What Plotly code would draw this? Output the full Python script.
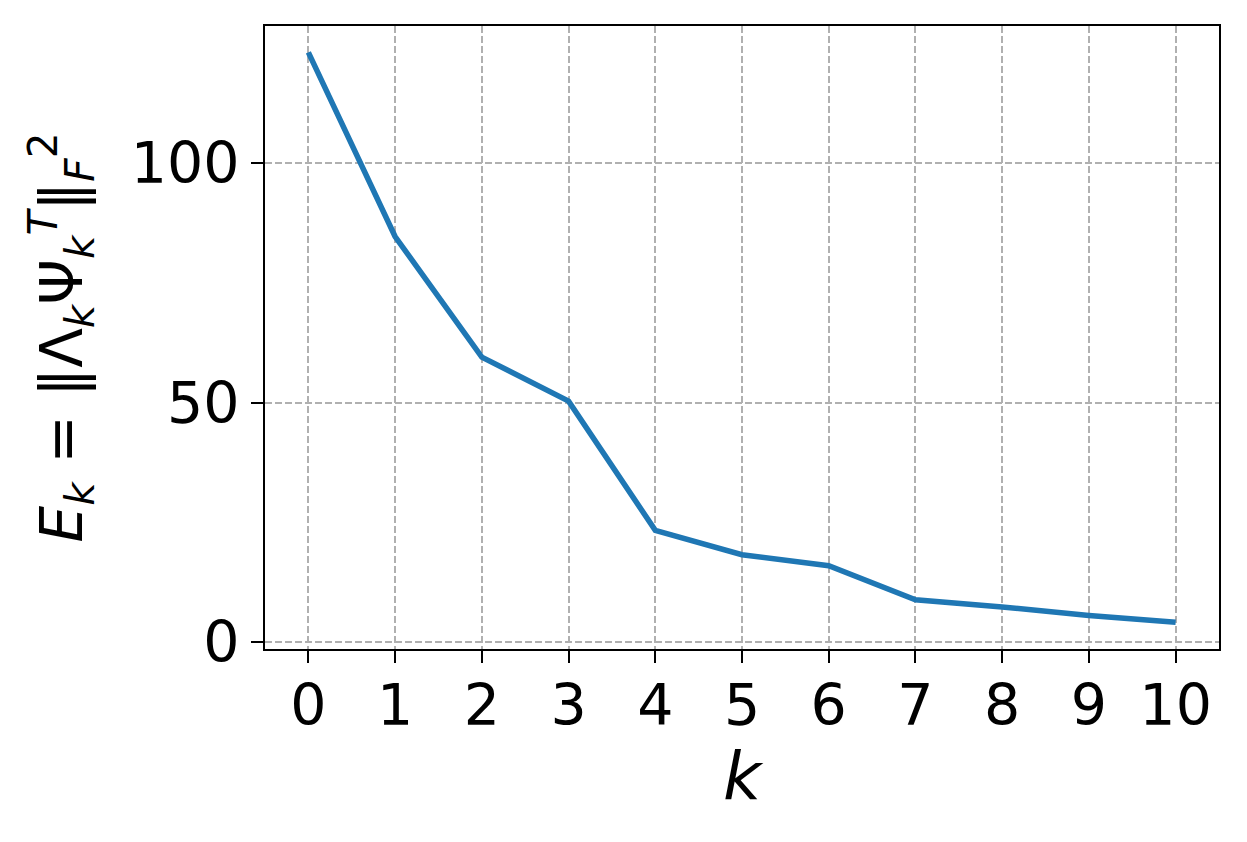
import plotly.graph_objects as go

# data
k_values = [0, 1, 2, 3, 4, 5, 6, 7, 8, 9, 10]
energy = [123.2, 84.7, 59.5, 50.3, 23.3, 18.2, 15.9, 8.8, 7.3, 5.5, 4.1]

x_ticks = list(range(0, 11))
y_ticks = [0, 50, 100]

FONT = "DejaVu Sans"
GRID = dict(showgrid=True, gridcolor="#b0b0b0", gridwidth=1.5, griddash="7px,3px")
AXIS = dict(showline=True, linecolor="black", linewidth=2, mirror=True,
            ticks="outside", ticklen=12, tickwidth=2, tickcolor="black",
            zeroline=False, tickfont=dict(family=FONT, size=57, color="black"))

fig = go.Figure()
fig.add_trace(go.Scatter(
    x=k_values, y=energy, mode="lines",
    line=dict(color="#1f77b4", width=5.5),
    showlegend=False))

fig.update_xaxes(
    range=[-0.5, 10.5], tickmode="array", tickvals=x_ticks, ticklabelstandoff=-6,
    title=dict(text="<i>k</i>", font=dict(family=FONT, size=66, color="black"), standoff=4),
    **GRID, **AXIS)
fig.update_yaxes(
    range=[-1.5, 128.7], tickmode="array", tickvals=y_ticks,
    title=dict(text="<i>E</i><sub><i>k</i></sub> = ‖Λ<sub><i>k</i></sub>Ψ<sub><i>k</i></sub><sup><i>T</i></sup>‖<sub><i>F</i></sub><sup>2</sup>",
               font=dict(family=FONT, size=58, color="black"), standoff=30),
    **GRID, **AXIS)

# the page body adds an 8px offset, so margins are shifted to compensate
fig.update_layout(
    width=1247, height=842,
    margin=dict(l=257, r=36, t=18, b=201, autoexpand=False),
    plot_bgcolor="white", paper_bgcolor="white",
    font=dict(family=FONT, color="black"))

fig.write_html("out.html")
